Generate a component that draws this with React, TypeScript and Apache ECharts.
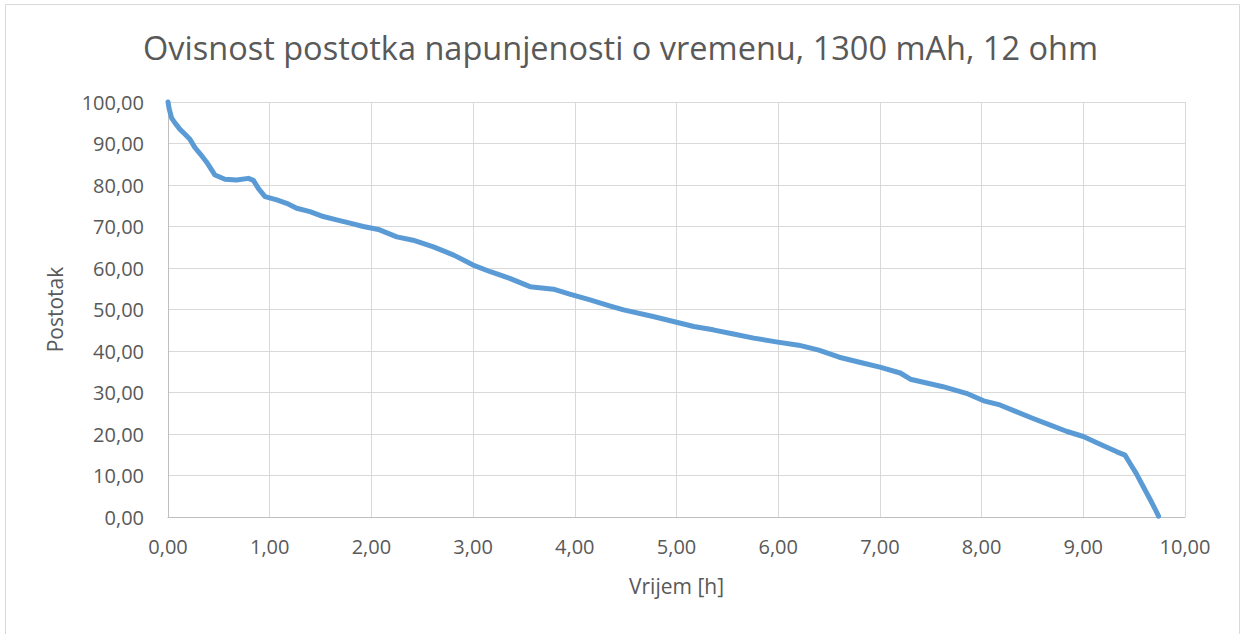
import React, { useEffect, useRef } from "react";
import * as echarts from "echarts";

const titleText = "Ovisnost postotka napunjenosti o vremenu, 1300 mAh, 12 ohm";
const xName = "Vrijem [h]";
const yName = "Postotak";

const timeH = [
  0, 0.012, 0.036, 0.07, 0.118, 0.16, 0.216, 0.265, 0.32, 0.38, 0.462, 0.56, 0.675, 0.79, 0.84, 0.888, 0.954,
  1.07, 1.167, 1.265, 1.396, 1.527, 1.658, 1.79, 1.92, 2.08, 2.25, 2.41, 2.61, 2.81,
  3.0, 3.17, 3.36, 3.56, 3.79, 3.95, 4.15, 4.35, 4.48, 4.77, 4.97, 5.17, 5.36, 5.56,
  5.76, 5.98, 6.2, 6.4, 6.6, 6.8, 7.0, 7.2, 7.3, 7.62, 7.85, 8.02, 8.18, 8.34, 8.5,
  8.67, 8.84, 9.0, 9.16, 9.33, 9.41, 9.46, 9.52, 9.59, 9.66, 9.71, 9.74,
];
const percent = [
  100, 98.3, 96.1, 94.9, 93.4, 92.4, 91.0, 89.0, 87.4, 85.5, 82.4, 81.4, 81.2, 81.6, 81.1, 79.2, 77.2,
  76.4, 75.6, 74.4, 73.6, 72.4, 71.6, 70.8, 70, 69.2, 67.5, 66.7, 65.1, 63.1,
  60.7, 59.1, 57.5, 55.5, 54.9, 53.7, 52.3, 50.8, 49.9, 48.3, 47.1, 45.9, 45.1, 44.1,
  43.1, 42.2, 41.4, 40.2, 38.5, 37.3, 36.1, 34.7, 33.2, 31.4, 29.8, 28, 27, 25.4, 23.8,
  22.2, 20.6, 19.4, 17.6, 15.7, 14.9, 12.9, 10.5, 7.3, 4.1, 1.7, 0.2,
];

const fmt = (v: number) => v.toFixed(2).replace(".", ",");

export default function App() {
  const ref = useRef<HTMLDivElement>(null);
  useEffect(() => {
    if (!ref.current) return;
    const chart = echarts.init(ref.current, null, { renderer: "svg" });
    const font = "'Open Sans', sans-serif";
    const textColor = "#595959";
    chart.setOption({
      animation: false,
      backgroundColor: "#ffffff",
      textStyle: { fontFamily: font },
      title: {
        text: titleText,
        left: "center",
        top: 26,
        textStyle: { fontFamily: font, fontSize: 32.5, fontWeight: "normal", color: textColor },
      },
      graphic: [
        {
          type: "rect",
          shape: { x: 5.5, y: 4.5, width: 1234, height: 660 },
          style: { fill: "none", stroke: "#d9d9d9", lineWidth: 1 },
          silent: true,
        },
      ],
      grid: { left: 168, right: 56, top: 102, bottom: 117, containLabel: false },
      xAxis: {
        type: "value",
        min: 0,
        max: 10,
        interval: 1,
        name: xName,
        nameLocation: "middle",
        nameGap: 58,
        nameTextStyle: { fontFamily: font, fontSize: 21, color: textColor },
        axisLine: { show: true, lineStyle: { color: "#bfbfbf", width: 1 } },
        axisTick: { show: false },
        axisLabel: { formatter: fmt, fontSize: 20, color: textColor, margin: 19, fontFamily: font },
        splitLine: { show: true, lineStyle: { color: "#d9d9d9", width: 1 } },
      },
      yAxis: {
        type: "value",
        min: 0,
        max: 100,
        interval: 10,
        name: yName,
        nameLocation: "middle",
        nameGap: 103,
        nameRotate: 90,
        nameTextStyle: { fontFamily: font, fontSize: 21, color: textColor },
        axisLine: { show: true, lineStyle: { color: "#bfbfbf", width: 1 } },
        axisTick: { show: false },
        axisLabel: { formatter: fmt, fontSize: 20, color: textColor, margin: 24, fontFamily: font },
        splitLine: { show: true, lineStyle: { color: "#d9d9d9", width: 1 } },
      },
      series: [
        {
          type: "line",
          data: timeH.map((t, i) => [t, percent[i]]),
          showSymbol: false,
          symbol: "none",
          lineStyle: { color: "#5b9bd5", width: 5, cap: "round", join: "round" },
          clip: false,
        },
      ],
    });
    return () => chart.dispose();
  }, []);
  return (
    <div
      ref={ref}
      style={{ position: "fixed", left: 0, top: 0, width: 1241, height: 634 }}
    />
  );
}
